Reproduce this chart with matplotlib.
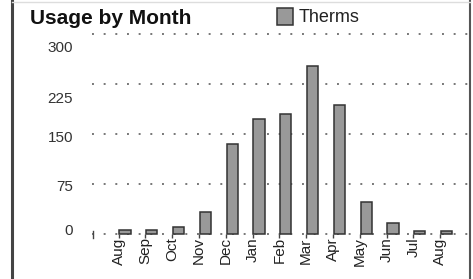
import matplotlib
matplotlib.use('Agg')
import matplotlib.pyplot as plt
from matplotlib.lines import Line2D
from matplotlib.patches import Rectangle

# datos
meses = ['Aug', 'Sep', 'Oct', 'Nov', 'Dec', 'Jan', 'Feb', 'Mar', 'Apr',
         'May', 'Jun', 'Jul', 'Aug']
therms = [6, 6, 10, 33, 135, 172, 180, 252, 193, 48, 16, 5, 5]
yticks = [0, 75, 150, 225, 300]

plt.rcParams['font.family'] = ['Liberation Sans', 'DejaVu Sans']

fig = plt.figure(figsize=(4.73, 2.79), dpi=100)
ax = fig.add_axes([92 / 473, 0, 378 / 473, 249 / 279])

x = list(range(len(meses)))
ax.bar(x, therms, width=0.42, color='#999999', edgecolor='#333333',
       linewidth=1.1, zorder=3)

ax.set_xlim(-1.23, 12.87)
ax.set_ylim(-67.5, 306)

# lineas punteadas (las etiquetas en el original no quedan centradas)
corr = [5, -5, -6, -22, -21]
for v, c in zip(yticks, corr):
    ax.axhline(v, color='#777777', linewidth=1.4, linestyle=(0, (1, 5)),
               zorder=1)
    ax.text(-1.93, v + c, str(v), ha='right', va='center', fontsize=11,
            color='#333333')

off = 0.24
for i, m in enumerate(meses):
    ax.text(i - off, -5, m, rotation=90, ha='center', va='top',
            fontsize=11, color='#222222')
ax.vlines([i - off for i in x], -6, 0, color='#444444', linewidth=1,
          zorder=4)

ax.plot([-1.2, -1.2], [-6, 4], color='#444444', linewidth=1)

for s in ax.spines.values():
    s.set_visible(False)
ax.set_xticks([])
ax.set_yticks([])

# titulo y leyenda
fig.text(30 / 473, 1 - 19 / 279, 'Usage by Month', fontsize=15,
         fontweight='bold', va='center', ha='left', color='#111111')
fig.add_artist(Rectangle((277 / 473, 1 - 25 / 279), 16 / 473, 17 / 279,
                         facecolor='#999999', edgecolor='#333333',
                         linewidth=1.1, transform=fig.transFigure))
fig.text(299 / 473, 1 - 18 / 279, 'Therms', fontsize=13, va='center',
         ha='left', color='#222222')

# marco
fig.add_artist(Line2D([12 / 473, 12 / 473], [0, 1], color='#444444',
                      linewidth=2.2, transform=fig.transFigure))
fig.add_artist(Line2D([470 / 473, 470 / 473], [0, 1], color='#555555',
                      linewidth=1.5, transform=fig.transFigure))
fig.add_artist(Line2D([12 / 473, 470 / 473], [1 - 2 / 279, 1 - 2 / 279],
                      color='#dddddd', linewidth=1, transform=fig.transFigure))

fig.savefig('out.png', dpi=100)
